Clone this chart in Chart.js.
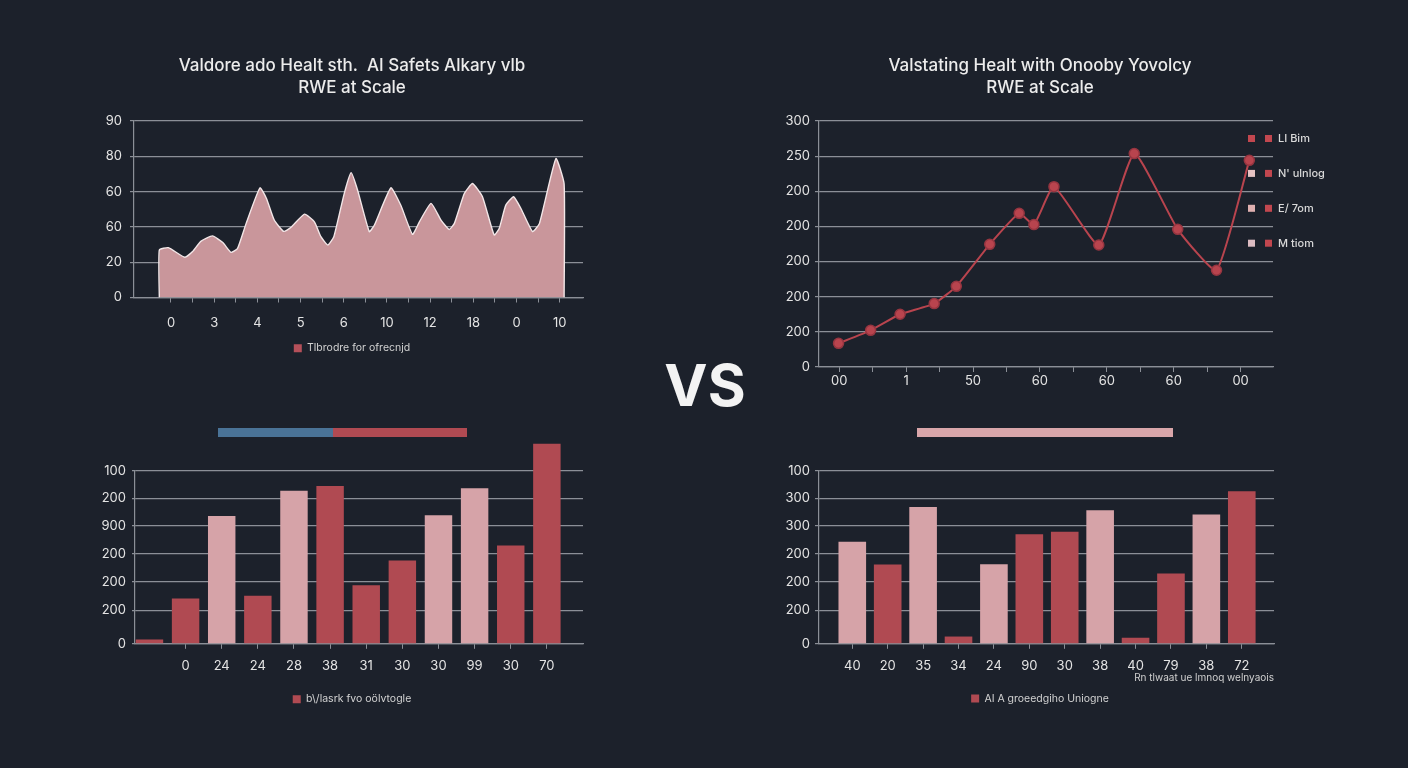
<!DOCTYPE html>
<html>
<head>
<meta charset="utf-8">
<script src="https://cdn.jsdelivr.net/npm/chart.js@4.4.1/dist/chart.umd.min.js"></script>
<style>
  html, body { margin:0; padding:0; background:#1c212b; }
  body { width:1408px; height:768px; position:relative; overflow:hidden; font-family: Inter, "Noto Sans", sans-serif; }
  canvas { position:absolute; }
  #vs { position:absolute; left:605px; top:350px; width:200px; text-align:center; font-weight:700; font-size:58px; line-height:70px; color:#f3f3f3; font-family: Inter, sans-serif; }
  .strip { position:absolute; height:9px; top:428px; }
</style>
</head>
<body>
<canvas id="c1" width="704" height="400" style="left:0;top:0"></canvas>
<canvas id="c2" width="704" height="400" style="left:688px;top:0"></canvas>
<canvas id="c3" width="704" height="368" style="left:0;top:400px"></canvas>
<canvas id="c4" width="704" height="368" style="left:688px;top:400px"></canvas>
<div class="strip" style="left:218px;width:115px;background:#4a7397"></div>
<div class="strip" style="left:333px;width:134px;background:#b04a52"></div>
<div class="strip" style="left:917px;width:256px;background:#d9a6aa"></div>
<div id="vs">VS</div>
<script>
// ================= DATA =================
const titleLeft = ["Valdore ado Healt sth.  AI Safets Alkary vlb", "RWE at Scale"];
const titleRight = ["Valstating Healt with Onooby Yovolcy", "RWE at Scale"];

// top-left area chart
const areaXLabels = ["0","3","4","5","6","10","12","18","0","10"];
const areaYLabels = ["0","20","60","60","80","90"];
const areaX = [-0.27,-0.27,-0.06,0.32,0.50,0.69,0.96,1.20,1.39,1.54,1.74,2.06,2.21,2.39,2.61,2.78,3.09,3.32,3.47,3.63,3.77,4.01,4.17,4.32,4.59,4.71,5.09,5.32,5.59,5.75,6.02,6.25,6.44,6.56,6.79,6.98,7.21,7.48,7.60,7.75,7.93,8.10,8.37,8.53,8.91,9.10,9.10];
const areaY = [0,24.2,25.4,20.5,23.4,28.6,31.4,28.0,23.0,25.0,37.8,55.9,50.5,39.5,33.7,35.8,42.5,38.6,31.0,26.8,31.0,53.0,63.6,54.7,33.6,37.0,55.9,47.0,32.2,38.6,48.0,39.5,34.7,37.8,53.0,58.1,51.4,31.9,35.3,47.1,51.4,45.4,33.6,37.8,70.8,57.8,0];
const areaLegend = "Tlbrodre for ofrecnjd";

// top-right line chart
const lineXLabels = ["00","1","50","60","60","60","00"];
const lineYLabels = ["0","200","200","200","200","200","250","300"];
const lineX = [-0.01,0.47,0.91,1.42,1.75,2.25,2.69,2.91,3.21,3.88,4.41,5.06,5.64,6.13];
const lineY = [33.7,52.2,75.0,90.2,114.8,174.5,218.6,202.6,256.6,173.5,303.6,195.9,137.6,294.0];
const lineLegend = ["LI Bim","N' ulnlog","E/ 7om","M tiom"];

// bottom bar charts
const barTickValues = [0,19.3,35.9,52.1,68.1,84.0,100];
const barLeftYLabels = ["0","200","200","200","900","200","100"];
const barLeftLabels = ["","0","24","24","28","38","31","30","30","99","30","70"];
const barLeftValues = [2.5,26.1,73.9,27.8,88.4,91.1,33.8,48.1,74.2,89.8,56.8,115.5];
const barLeftGroup = ["A","A","B","A","B","A","A","A","B","B","A","A"];
const barLeftLegend = "b\\/lasrk fvo oölvtogle";

const barRightYLabels = ["0","200","200","200","300","300","100"];
const barRightLabels = ["40","20","35","34","24","90","30","38","40","79","38","72"];
const barRightValues = [58.9,45.8,79.1,4.2,45.9,63.3,64.7,77.2,3.5,40.6,74.7,88.2];
const barRightGroup = ["B","A","B","A","B","A","A","B","A","A","B","A"];
const barRightLegend = "AI A groeedgiho Uniogne";
const barRightAxisTitle = "Rn tlwaat ue lmnoq welnyaois";

// ================= STYLE =================
const GRID = '#8b8f97', TXT = '#e4e4e4', RED = '#b04a52', PINK = '#d6a3a8', FILL = '#c9969b';
const FONT = 'Inter, "Noto Sans", sans-serif';
Chart.defaults.font.family = FONT;
Chart.defaults.color = TXT;

function spacer(w) {
  return { type:'linear', position:'right', display:true, grid:{display:false}, border:{display:false},
           ticks:{display:false}, afterFit(s){ s.width = w; } };
}
function oneLegend(text, color) {
  return () => [{ text, fillStyle:color, strokeStyle:color, lineWidth:0, hidden:false, datasetIndex:0, fontColor:'#d2d2d2' }];
}
const titleOpts = (text) => ({ display:true, text, color:'#ececec', font:{size:17, weight:'500', lineHeight:1.3}, padding:{top:55, bottom:21.8} });

// ---------- chart 1 : area ----------
new Chart(document.getElementById('c1'), {
  type:'line',
  data:{ datasets:[{ label:areaLegend, data: areaX.map((x,i)=>({x, y:areaY[i]})),
    borderColor:'#f3e7e8', borderWidth:1.4, backgroundColor:FILL, fill:'origin', pointRadius:0, tension:0.15 }]},
  options:{
    responsive:false, animation:false, events:[],
    layout:{ padding:{ top:0, bottom:36.5, left:0, right:0 } },
    plugins:{
      title: titleOpts(titleLeft),
      legend:{ display:true, position:'bottom', labels:{ boxWidth:8, boxHeight:8, padding:9.5, color:'#d2d2d2', font:{size:10.5}, generateLabels: oneLegend(areaLegend, '#b5505a') } },
      tooltip:{ enabled:false }
    },
    scales:{
      x:{ type:'linear', min:-0.856, max:9.537,
          afterBuildTicks(s){ s.ticks = []; areaXLabels.forEach((_,i)=>{ s.ticks.push({value:i}); if (i < areaXLabels.length-1) s.ticks.push({value:i+0.5}); }); },
          afterFit(s){ s.height = 36; },
          grid:{ drawOnChartArea:false, drawTicks:true, tickLength:5, color:GRID },
          border:{ display:true, color:GRID, width:1.2 },
          ticks:{ padding:13, color:TXT, font:{size:13}, maxRotation:0, autoSkip:false, callback:(v)=> Number.isInteger(v) ? areaXLabels[v] : '' } },
      y:{ min:0, max:90,
          ticks:{ stepSize:18, padding:8, color:TXT, font:{size:13}, callback:(v)=> areaYLabels[Math.round(v/18)] },
          afterFit(s){ s.width = 134; },
          grid:{ color:GRID, lineWidth:1.2, tickLength:4 },
          border:{ display:true, color:GRID, width:1.2 } },
      pad: spacer(121)
    }
  }
});

// ---------- chart 2 : line ----------
const sideLegend = {
  id:'sideLegend',
  afterDraw(chart){
    const {ctx, chartArea:a} = chart;
    ctx.save();
    ctx.font = '500 11px ' + FONT;
    ctx.textBaseline = 'middle';
    const firstCol = ['#c2474f', '#e6c3c3', '#dfb0b0', '#dcbcc2'];
    lineLegend.forEach((t,i)=>{
      const y = a.top + 17.5 + i*34.9;
      ctx.fillStyle = firstCol[i];
      ctx.fillRect(a.right - 25, y-3.5, 7, 7);
      ctx.fillStyle = '#c2474f';
      ctx.fillRect(a.right - 8, y-3.5, 7, 7);
      ctx.fillStyle = '#d8d8d8';
      ctx.fillText(t, a.right + 5, y);
    });
    ctx.restore();
  }
};
new Chart(document.getElementById('c2'), {
  type:'line',
  data:{ datasets:[{ label:'series', data: lineX.map((x,i)=>({x, y:lineY[i]})),
    borderColor:'#b8444e', borderWidth:2, pointRadius:5, pointBackgroundColor:'#b8444e',
    pointBorderColor:'#963540', pointBorderWidth:1.5, tension:0.15, fill:false }]},
  options:{
    responsive:false, animation:false, events:[],
    layout:{ padding:{ top:0, bottom:3, left:0, right:0 } },
    plugins:{ title: titleOpts(titleRight), legend:{ display:false }, tooltip:{ enabled:false } },
    scales:{
      x:{ type:'linear', min:-0.302, max:6.484,
          afterBuildTicks(s){ s.ticks = []; lineXLabels.forEach((_,i)=>{ s.ticks.push({value:i}); if (i < lineXLabels.length-1) s.ticks.push({value:i+0.5}); }); },
          afterFit(s){ s.height = 30; },
          grid:{ drawOnChartArea:false, drawTicks:true, tickLength:5, color:GRID },
          border:{ display:true, color:GRID, width:1.2 },
          ticks:{ padding:1, color:TXT, font:{size:13}, maxRotation:0, autoSkip:false, callback:(v)=> Number.isInteger(v) ? lineXLabels[v] : '' } },
      y:{ min:0, max:350,
          ticks:{ stepSize:50, padding:5, color:TXT, font:{size:13}, callback:(v)=> lineYLabels[Math.round(v/50)] },
          afterFit(s){ s.width = 131; },
          grid:{ color:GRID, lineWidth:1.2, tickLength:4 },
          border:{ display:true, color:GRID, width:1.2 } },
      pad: spacer(119)
    }
  },
  plugins:[sideLegend]
});

// ---------- bar charts ----------
function barChart(id, labels, values, groups, yLabels, legendText, opts) {
  return new Chart(document.getElementById(id), {
    type:'bar',
    data:{ datasets:[{ label:legendText, data: values.map((y,i)=>({x:i, y})),
      backgroundColor: groups.map(g => g === 'A' ? RED : PINK),
      barPercentage: opts.barPct, categoryPercentage:1, clip:false }]},
    options:{
      responsive:false, animation:false, events:[],
      layout:{ padding:{ top:70.7, bottom:opts.padBottom, left:0, right:0 } },
      plugins:{
        legend:{ display:true, position:'bottom', labels:{ boxWidth:8, boxHeight:8, padding:opts.legendPad, color:'#d2d2d2', font:{size:10.5}, generateLabels: oneLegend(legendText, RED) } },
        tooltip:{ enabled:false }
      },
      scales:{
        x:{ type:'linear', min:opts.xMin, max:opts.xMax, offset:false,
            afterBuildTicks(s){ s.ticks = labels.map((_,i)=>({value:i})); },
            afterFit(s){ s.height = opts.xHeight; },
            grid:{ offset:false, drawOnChartArea:false, drawTicks:true, tickLength:5,
                   tickColor:(c)=> (c.tick && labels[c.tick.value]) ? GRID : 'rgba(0,0,0,0)', color:GRID },
            border:{ display:true, color:GRID, width:1.2 },
            title: opts.axisTitle ? { display:true, text:opts.axisTitle, align:'end', color:'#cfcfcf', font:{size:10}, padding:{top:0, bottom:0} } : { display:false },
            ticks:{ padding:9, color:TXT, font:{size:13}, maxRotation:0, autoSkip:false, callback:(v)=> labels[v] } },
        y:{ min:0, max:100,
            afterBuildTicks(s){ s.ticks = barTickValues.map(v=>({value:v})); },
            ticks:{ padding:opts.yPad, color:TXT, font:{size:13}, callback:(v,i)=> yLabels[i] },
            afterFit(s){ s.width = opts.yWidth; },
            grid:{ color:GRID, lineWidth:1.2, tickLength:opts.yTick },
            border:{ display:true, color:GRID, width:1.2 } },
        pad: spacer(opts.right)
      }
    }
  });
}

barChart('c3', barLeftLabels, barLeftValues, barLeftGroup, barLeftYLabels, barLeftLegend,
  { barPct:0.76, xMin:-0.4, xMax:12.0, xHeight:36, legendPad:14.2, padBottom:53.5, yWidth:135, yPad:6, yTick:3, right:121 });

barChart('c4', barRightLabels, barRightValues, barRightGroup, barRightYLabels, barRightLegend,
  { barPct:0.78, xMin:-0.94, xMax:11.91, xHeight:40.4, legendPad:9.1, padBottom:54.2, yWidth:131, yPad:5, yTick:4, right:118, axisTitle:barRightAxisTitle });
</script>
</body>
</html>
